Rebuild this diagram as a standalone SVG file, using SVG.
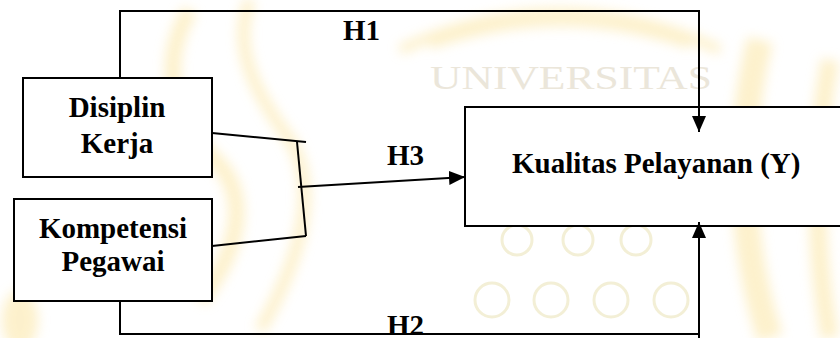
<svg xmlns="http://www.w3.org/2000/svg" width="840" height="338" viewBox="0 0 840 338">
  <defs>
    <style>
      .box { fill: #ffffff; stroke: #000000; stroke-width: 2; }
      .wire { fill: none; stroke: #000000; stroke-width: 2; }
      .lbl { font-family: "Liberation Serif", "Times New Roman", serif; font-weight: bold; font-size: 29px; fill: #000000; }
      .mid { text-anchor: middle; }
      .wm { fill: #fbe39a; }
      .wmline { fill: none; stroke: #fbe39a; }
      .ring { fill: none; stroke: #f3efd6; stroke-width: 3; }
    </style>
    <filter id="soft" x="-20%" y="-20%" width="140%" height="140%">
      <feGaussianBlur stdDeviation="6"/>
    </filter>
    <marker id="head" viewBox="0 0 16 14" refX="16" refY="7" markerWidth="16" markerHeight="14" markerUnits="userSpaceOnUse" orient="auto">
      <path d="M0,0 L16,7 L0,14 Z" fill="#000000"/>
    </marker>
  </defs>

  <rect x="0" y="0" width="840" height="338" fill="#ffffff"/>

  <!-- faint emblem behind the diagram -->
  <g id="watermark">
    <g filter="url(#soft)" opacity="0.5">
      <path class="wmline" stroke-width="16" d="M190,10 C160,60 170,120 215,160 C250,195 240,250 200,300"/>
      <path class="wmline" stroke-width="12" d="M250,0 C230,50 260,100 290,140 C320,190 300,260 260,330"/>
      <path class="wmline" stroke-width="10" d="M400,50 Q560,-25 720,50"/>
      <path class="wmline" stroke-width="8" d="M430,45 Q560,0 690,45"/>
      <path class="wmline" stroke-width="26" d="M760,40 C740,120 735,230 770,338"/>
      <path class="wmline" stroke-width="18" d="M830,60 C815,140 812,240 830,338"/>
      <ellipse class="wm" cx="20" cy="320" rx="18" ry="30"/>
    </g>
    <text x="430" y="89" font-family="Liberation Serif, serif" font-size="34" fill="#ebe6da" textLength="282" lengthAdjust="spacingAndGlyphs">UNIVERSITAS</text>
    <circle class="ring" cx="517" cy="240" r="15"/>
    <circle class="ring" cx="578" cy="240" r="15"/>
    <circle class="ring" cx="636" cy="240" r="15"/>
    <circle class="ring" cx="492" cy="300" r="17"/>
    <circle class="ring" cx="551" cy="300" r="17"/>
    <circle class="ring" cx="611" cy="300" r="17"/>
    <circle class="ring" cx="671" cy="300" r="17"/>
  </g>

  <g id="disiplin">
    <rect class="box" x="23" y="78" width="189" height="99"/>
    <text class="lbl mid" x="117" y="117">Disiplin</text>
    <text class="lbl mid" x="117" y="153">Kerja</text>
  </g>

  <g id="kompetensi">
    <rect class="box" x="14" y="199" width="198" height="102"/>
    <text class="lbl mid" x="113" y="238">Kompetensi</text>
    <text class="lbl mid" x="113" y="271">Pegawai</text>
  </g>

  <g id="kualitas">
    <rect class="box" x="465" y="107" width="390" height="119"/>
    <text class="lbl" x="512" y="173">Kualitas Pelayanan (Y)</text>
  </g>

  <!-- connectors, drawn over the boxes so the arrowheads stay visible -->
  <g id="connectors">
    <!-- H1: Disiplin Kerja to Kualitas Pelayanan -->
    <path class="wire" d="M120,77 V11 H699 V132" marker-end="url(#head)"/>
    <!-- H2: Kompetensi Pegawai to Kualitas Pelayanan -->
    <path class="wire" d="M120,301 V334 H699"/>
    <path class="wire" d="M699,338 V222" marker-end="url(#head)"/>
    <!-- H3: joint bracket -->
    <path class="wire" d="M212,133 L306,142"/>
    <path class="wire" d="M297,142 L306,236"/>
    <path class="wire" d="M306,236 L212,246"/>
    <path class="wire" d="M298,187 L465,177" marker-end="url(#head)"/>
    <text class="lbl" x="343" y="40">H1</text>
    <text class="lbl" x="387" y="165">H3</text>
    <text class="lbl" x="387" y="335">H2</text>
  </g>
</svg>
